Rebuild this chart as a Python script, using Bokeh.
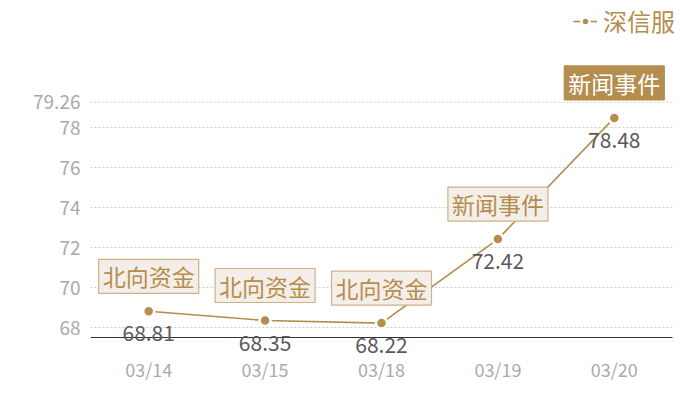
from bokeh.plotting import figure
from bokeh.models import ColumnDataSource, Range1d, FixedTicker, Legend, LegendItem
from bokeh.core.properties import value
from bokeh.embed import file_html
from bokeh.resources import INLINE

dates = ["03/14", "03/15", "03/18", "03/19", "03/20"]
prices = [68.81, 68.35, 68.22, 72.42, 78.48]
events = ["北向资金", "北向资金", "北向资金", "新闻事件", "新闻事件"]
series_name = "深信服"
y_ticks = [68, 70, 72, 74, 76, 78, 79.26]
axis_min, axis_max = 67.5, 79.26

TAN = "#b58d4e"
FONT = "Noto Sans CJK SC"

W, H = 692, 392
LEFT, BOTTOM = 90, 38          # frame borders in px
PX_PER_CAT = 116.4
PX_PER_UNIT = 20.0
AXIS_Y = 337                   # px from top where the value axis minimum sits

x_pos = list(range(len(dates)))
x_lo = -0.5
x_hi = x_lo + (W - LEFT) / PX_PER_CAT
frame_h = H - BOTTOM
y_lo = axis_min - (frame_h - AXIS_Y) / PX_PER_UNIT
y_hi = axis_min + AXIS_Y / PX_PER_UNIT

p = figure(width=W, height=H, x_range=Range1d(x_lo, x_hi), y_range=Range1d(y_lo, y_hi),
           output_backend="svg", toolbar_location=None,
           min_border_left=LEFT, min_border_right=0, min_border_top=0, min_border_bottom=BOTTOM)
p.outline_line_color = None
p.xgrid.grid_line_color = None
p.ygrid.grid_line_color = None

# grid lines and axis line, limited to the category span
n = len(dates)
p.segment(x0=[x_lo] * len(y_ticks), x1=[n - 0.5] * len(y_ticks), y0=y_ticks, y1=y_ticks,
          line_color="#cccccc", line_dash="2 2", line_width=1)
p.segment(x0=[x_lo], x1=[n - 0.5], y0=[axis_min], y1=[axis_min], line_color="#333333", line_width=1)

src = ColumnDataSource(dict(
    x=x_pos, y=prices, ev=events, val=[f"{v:.2f}" for v in prices],
    bg=["#f3efe8"] * (n - 1) + [TAN],
    fg=[TAN] * (n - 1) + ["white"],
    bd=["#cfb088"] * (n - 1) + [TAN],
))

ln = p.line("x", "y", source=src, line_color=TAN, line_width=1.6)
sc = p.scatter("x", "y", source=src, size=11, fill_color=TAN, line_color="white", line_width=2.5)

p.text("x", "y", text="val", source=src, y_offset=22, text_align="center", text_baseline="middle",
       text_color="#5a5a5a", text_font=value(FONT), text_font_size="21px")

p.text("x", "y", text="ev", source=src, y_offset=-35, text_align="center", text_baseline="middle",
       text_color="fg", text_font=value(FONT), text_font_size="23px",
       background_fill_color="bg", border_line_color="bd", border_line_width=1.2,
       padding=dict(left=4, right=4, top=0, bottom=0))

p.yaxis.ticker = FixedTicker(ticks=y_ticks)
p.yaxis.axis_line_color = None
p.yaxis.major_tick_line_color = None
p.yaxis.minor_tick_line_color = None
p.yaxis.major_label_text_color = "#aaaaaa"
p.yaxis.major_label_text_font = FONT
p.yaxis.major_label_text_font_size = "19px"
p.yaxis.major_label_standoff = 4

p.xaxis.ticker = FixedTicker(ticks=x_pos)
p.xaxis.major_label_overrides = {i: d for i, d in enumerate(dates)}
p.xaxis.axis_line_color = None
p.xaxis.major_tick_line_color = None
p.xaxis.minor_tick_line_color = None
p.xaxis.major_label_text_color = "#aaaaaa"
p.xaxis.major_label_text_font = FONT
p.xaxis.major_label_text_font_size = "18px"
p.xaxis.major_label_standoff = -5

legend = Legend(items=[LegendItem(label=series_name, renderers=[ln, sc])],
                location=(483, frame_h - 38), orientation="horizontal",
                label_text_color=TAN, label_text_font=FONT, label_text_font_size="24px",
                label_height=30, glyph_width=24, glyph_height=20, label_standoff=6,
                border_line_color=None, background_fill_alpha=0, padding=0, margin=0)
p.add_layout(legend, "center")

open("out.html", "w").write(file_html(p, INLINE))
